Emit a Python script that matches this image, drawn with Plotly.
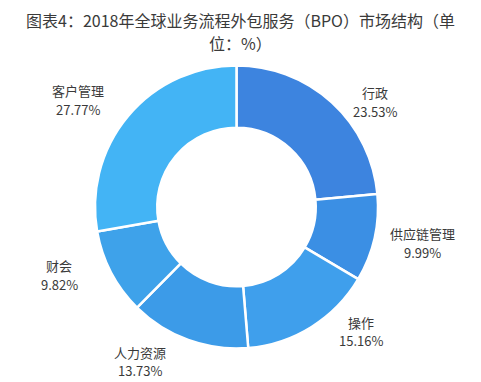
import math
import plotly.graph_objects as go

categories = ["行政", "供应链管理", "操作", "人力资源", "财会", "客户管理"]
values = [23.53, 9.99, 15.16, 13.73, 9.82, 27.77]
colors = ["#3d84df", "#3b8fe4", "#3f9fec", "#3c9be8", "#3ea2ea", "#43b4f5"]
title_lines = ["图表4：2018年全球业务流程外包服务（BPO）市场结构（单", "位：%）"]

# label layout: angular nudge (deg) from slice mid-angle and label radius (px)
label_nudge = [10.6, -1.7, -13.0, 12.0, 6.6, -6.0]
label_radius = [174, 189, 176, 182, 190, 191]

# page body has an 8px default margin; work in screen pixels and shift
OFF = 8
W, H = 481 - OFF, 382 - OFF
cx, cy, R = 236.5 - OFF, 207.0 - OFF, 141.5
FONT = "Noto Sans CJK SC, Noto Sans, sans-serif"
LINE_GAP = 18.5

fig = go.Figure(go.Pie(
    labels=categories,
    values=values,
    hole=0.56,
    sort=False,
    direction="clockwise",
    rotation=0,
    marker=dict(colors=colors, line=dict(color="white", width=2.5)),
    textinfo="none",
    hoverinfo="label+percent",
    domain=dict(x=[(cx - R) / W, (cx + R) / W], y=[(H - cy - R) / H, (H - cy + R) / H]),
    showlegend=False,
))

total = sum(values)
acc = 0.0
annotations = []
for name, v, nd, rl in zip(categories, values, label_nudge, label_radius):
    mid = (acc + v / 2) / total * 360.0
    acc += v
    ang = math.radians(mid + nd)
    px = cx + rl * math.sin(ang)
    py = cy - rl * math.cos(ang)
    for txt, dy in ((name, -LINE_GAP / 2), (f"{v:.2f}%", LINE_GAP / 2)):
        annotations.append(dict(
            x=px / W, y=1 - (py + dy) / H, xref="paper", yref="paper",
            text=txt, showarrow=False,
            font=dict(family=FONT, size=13, color="#3a3a3a"),
            xanchor="center", yanchor="middle", align="center",
        ))

for i, line in enumerate(title_lines):
    annotations.append(dict(
        x=(240.5 - OFF) / W, y=1 - (20 + 23 * i - OFF) / H, xref="paper", yref="paper",
        text=line, showarrow=False, xanchor="center", yanchor="middle", align="center",
        borderpad=0,
        font=dict(family=FONT, size=16, color="#3a3a3a"),
    ))

fig.update_layout(
    width=W, height=H,
    margin=dict(l=0, r=0, t=0, b=0),
    paper_bgcolor="white", plot_bgcolor="white",
    annotations=annotations,
)

fig.write_html("out.html")
